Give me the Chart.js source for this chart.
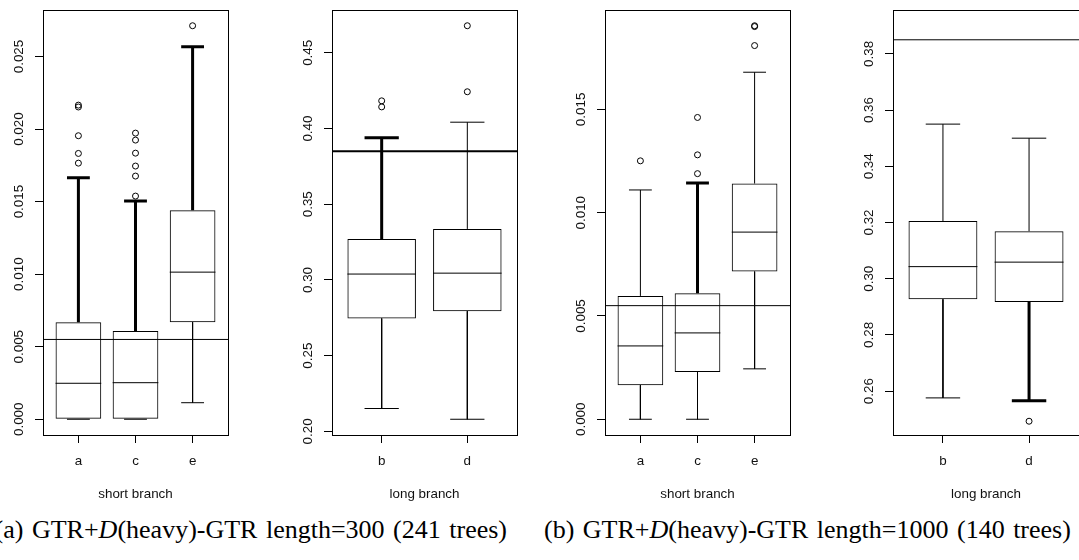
<!DOCTYPE html>
<html><head><meta charset="utf-8">
<script src="https://cdn.jsdelivr.net/npm/chart.js@4.4.1/dist/chart.umd.min.js"></script>
<style>
html,body{margin:0;padding:0;background:#fff;overflow:hidden;width:1079px;height:560px;position:relative}
.pane{position:absolute;top:0}
.cap{position:absolute;top:516.5px;font-family:"Liberation Serif","Times New Roman",serif;font-size:26px;line-height:26px;word-spacing:2px;white-space:nowrap;color:#000}
</style></head><body>
<div class="pane" style="left:0px"><canvas id="c1" width="233" height="510"></canvas></div>
<div class="pane" style="left:289px"><canvas id="c2" width="233" height="510"></canvas></div>
<div class="pane" style="left:562px"><canvas id="c3" width="233" height="510"></canvas></div>
<div class="pane" style="left:850px"><canvas id="c4" width="234" height="510"></canvas></div>
<div class="cap" style="right:572px;text-align:right">(a) GTR+<i>D</i>(heavy)-GTR length=300 (241 trees)</div>
<div class="cap" style="left:544px">(b) GTR+<i>D</i>(heavy)-GTR length=1000 (140 trees)</div>
<script>
// ---------- data ----------
// (a) length=300, short branch
const A_SHORT_CATS = ['a', 'c', 'e'];
const A_SHORT_Q1   = [0, 0, 0.00669];
const A_SHORT_MED  = [0.00248, 0.00252, 0.01014];
const A_SHORT_Q3   = [0.00669, 0.00609, 0.01441];
const A_SHORT_LOW  = [0, 0, 0.00114];
const A_SHORT_HIGH = [0.01664, 0.01505, 0.02567];
const A_SHORT_OUT  = [[0.02165, 0.02152, 0.01954, 0.01832, 0.01765],
                      [0.01972, 0.01924, 0.01834, 0.01745, 0.01676, 0.01538],
                      [0.02712]];
const A_SHORT_TICKS = ['0.000', '0.005', '0.010', '0.015', '0.020', '0.025'];
const A_SHORT_YLIM = [0, 0.02712];
const A_SHORT_REF = 0.0055;
const A_SHORT_BOLD_LOW  = [false, false, false];
const A_SHORT_BOLD_HIGH = [true, true, true];

// (a) length=300, long branch
const A_LONG_CATS = ['b', 'd'];
const A_LONG_Q1   = [0.2746, 0.2794];
const A_LONG_MED  = [0.3039, 0.3045];
const A_LONG_Q3   = [0.3270, 0.3337];
const A_LONG_LOW  = [0.2151, 0.2080];
const A_LONG_HIGH = [0.3940, 0.4042];
const A_LONG_OUT  = [[0.4183, 0.4143], [0.4679, 0.4243]];
const A_LONG_TICKS = ['0.20', '0.25', '0.30', '0.35', '0.40', '0.45'];
const A_LONG_YLIM = [0.2080, 0.4679];
const A_LONG_REF = 0.385;
const A_LONG_BOLD_LOW  = [false, false];
const A_LONG_BOLD_HIGH = [true, false];

// (b) length=1000, short branch
const B_SHORT_CATS = ['a', 'c', 'e'];
const B_SHORT_Q1   = [0.00165, 0.00229, 0.00715];
const B_SHORT_MED  = [0.00355, 0.00418, 0.00906];
const B_SHORT_Q3   = [0.00597, 0.00610, 0.01141];
const B_SHORT_LOW  = [0, 0, 0.00244];
const B_SHORT_HIGH = [0.01110, 0.01144, 0.01680];
const B_SHORT_OUT  = [[0.01251], [0.01189, 0.01280, 0.01461], [0.01809, 0.01901, 0.01905]];
const B_SHORT_TICKS = ['0.000', '0.005', '0.010', '0.015'];
const B_SHORT_YLIM = [0, 0.01905];
const B_SHORT_REF = 0.0055;
const B_SHORT_BOLD_LOW  = [false, false, false];
const B_SHORT_BOLD_HIGH = [false, true, false];

// (b) length=1000, long branch
const B_LONG_CATS = ['b', 'd'];
const B_LONG_Q1   = [0.2927, 0.2917];
const B_LONG_MED  = [0.3043, 0.3059];
const B_LONG_Q3   = [0.3205, 0.3169];
const B_LONG_LOW  = [0.2576, 0.2566];
const B_LONG_HIGH = [0.3550, 0.3500];
const B_LONG_OUT  = [[], [0.2493]];
const B_LONG_TICKS = ['0.26', '0.28', '0.30', '0.32', '0.34', '0.36', '0.38'];
const B_LONG_YLIM = [0.25, 0.39];
const B_LONG_REF = 0.385;
const B_LONG_BOLD_LOW  = [false, true];
const B_LONG_BOLD_HIGH = [false, false];

// ---------- style ----------
const FONT = '"Liberation Sans", Arial, Helvetica, sans-serif';
const FSIZE = 13.4;
const TXT = '#111';
const LINE = '#000';
const HALF_BOX = 0.4, HALF_CAP = 0.2, EXT = 0.04;

function segs(list) {
  const out = [];
  list.forEach(([x0, y0, x1, y1]) => { out.push({x: x0, y: y0}, {x: x1, y: y1}, {x: x1, y: null}); });
  return out;
}

const framePlugin = {
  id: 'rframe',
  afterDraw(chart) {
    const {ctx, chartArea: a, scales: {y}} = chart;
    const labels = chart.options.plugins.rframe.labels;
    ctx.save();
    ctx.strokeStyle = LINE; ctx.lineWidth = 1;
    const l = Math.round(a.left) + 0.5, t = Math.round(a.top) + 0.5;
    ctx.strokeRect(l, t, Math.round(a.right) - Math.round(a.left), Math.round(a.bottom) - Math.round(a.top));
    ctx.fillStyle = TXT;
    ctx.font = FSIZE + 'px ' + FONT;
    ctx.textAlign = 'center'; ctx.textBaseline = 'middle';
    labels.forEach(s => {
      const py = y.getPixelForValue(parseFloat(s));
      ctx.save();
      ctx.translate(a.left - 24, py);
      ctx.rotate(-Math.PI / 2);
      ctx.fillText(s, 0, 0);
      ctx.restore();
    });
    ctx.restore();
  }
};

function boxChart(id, p) {
  const n = p.cats.length;
  const xmin = 0.5 - EXT * n, xmax = n + 0.5 + EXT * n;
  const span = p.ylim[1] - p.ylim[0];
  const ymin = p.ylim[0] - EXT * span, ymax = p.ylim[1] + EXT * span;
  const xs = p.cats.map((_, i) => i + 1);

  const medSegs = [], thin = [], bold = [];
  xs.forEach((x, i) => {
    medSegs.push([x - HALF_BOX, p.med[i], x + HALF_BOX, p.med[i]]);
    (p.boldHigh[i] ? bold : thin).push([x, p.q3[i], x, p.high[i]], [x - HALF_CAP, p.high[i], x + HALF_CAP, p.high[i]]);
    (p.boldLow[i] ? bold : thin).push([x, p.q1[i], x, p.low[i]], [x - HALF_CAP, p.low[i], x + HALF_CAP, p.low[i]]);
  });
  const outliers = [];
  p.out.forEach((arr, i) => arr.forEach(v => outliers.push({x: xs[i], y: v})));

  const lineDs = (data, w) => ({type: 'line', data, borderColor: LINE, borderWidth: w, pointRadius: 0,
    spanGaps: false, fill: false, borderCapStyle: 'butt'});

  new Chart(document.getElementById(id), {
    type: 'bar',
    data: {
      datasets: [
        {type: 'bar', data: xs.map((x, i) => ({x, y: [p.q1[i], p.q3[i]]})),
         backgroundColor: 'rgba(0,0,0,0)', borderColor: LINE, borderWidth: 1, borderSkipped: false,
         categoryPercentage: 1, barPercentage: 2 * HALF_BOX},
        lineDs(segs(medSegs), 1),
        lineDs(segs(thin), 1),
        lineDs(segs(bold), 3),
        lineDs([{x: xmin, y: p.ref}, {x: xmax, y: p.ref}], p.refWidth),
        {type: 'line', data: outliers, showLine: false, pointStyle: 'circle', pointRadius: 3,
         pointBorderWidth: 1, pointBorderColor: LINE, pointBackgroundColor: 'rgba(0,0,0,0)'}
      ]
    },
    options: {
      responsive: false, animation: false, devicePixelRatio: 1,
      events: [],
      layout: {padding: {top: 10, right: 4, left: 0, bottom: 0}},
      plugins: {legend: {display: false}, tooltip: {enabled: false}, rframe: {labels: p.ticks}},
      scales: {
        x: {
          type: 'linear', min: xmin, max: xmax, offset: false,
          afterBuildTicks: s => { s.ticks = xs.map(v => ({value: v})); },
          afterFit: s => { s.height = 75; },
          grid: {offset: false, drawOnChartArea: false, drawTicks: true, tickLength: 8, color: LINE, lineWidth: 1},
          border: {display: false},
          ticks: {color: TXT, font: {family: FONT, size: FSIZE}, padding: 10, maxRotation: 0, autoSkip: false,
                  callback: v => p.cats[Math.round(v) - 1]},
          title: {display: true, text: p.title, color: TXT, font: {family: FONT, size: FSIZE}, padding: {top: 0, bottom: 8}}
        },
        y: {
          type: 'linear', min: ymin, max: ymax,
          afterBuildTicks: s => { s.ticks = p.ticks.map(t => ({value: parseFloat(t)})); },
          afterFit: s => { s.width = 43; },
          grid: {drawOnChartArea: false, drawTicks: true, tickLength: 8, color: LINE, lineWidth: 1},
          border: {display: false},
          ticks: {display: false}
        }
      }
    },
    plugins: [framePlugin]
  });
}

boxChart('c1', {cats: A_SHORT_CATS, q1: A_SHORT_Q1, med: A_SHORT_MED, q3: A_SHORT_Q3, low: A_SHORT_LOW,
  high: A_SHORT_HIGH, out: A_SHORT_OUT, ticks: A_SHORT_TICKS, ylim: A_SHORT_YLIM, ref: A_SHORT_REF, refWidth: 1,
  boldLow: A_SHORT_BOLD_LOW, boldHigh: A_SHORT_BOLD_HIGH, title: 'short branch'});
boxChart('c2', {cats: A_LONG_CATS, q1: A_LONG_Q1, med: A_LONG_MED, q3: A_LONG_Q3, low: A_LONG_LOW,
  high: A_LONG_HIGH, out: A_LONG_OUT, ticks: A_LONG_TICKS, ylim: A_LONG_YLIM, ref: A_LONG_REF, refWidth: 2,
  boldLow: A_LONG_BOLD_LOW, boldHigh: A_LONG_BOLD_HIGH, title: 'long branch'});
boxChart('c3', {cats: B_SHORT_CATS, q1: B_SHORT_Q1, med: B_SHORT_MED, q3: B_SHORT_Q3, low: B_SHORT_LOW,
  high: B_SHORT_HIGH, out: B_SHORT_OUT, ticks: B_SHORT_TICKS, ylim: B_SHORT_YLIM, ref: B_SHORT_REF, refWidth: 1,
  boldLow: B_SHORT_BOLD_LOW, boldHigh: B_SHORT_BOLD_HIGH, title: 'short branch'});
boxChart('c4', {cats: B_LONG_CATS, q1: B_LONG_Q1, med: B_LONG_MED, q3: B_LONG_Q3, low: B_LONG_LOW,
  high: B_LONG_HIGH, out: B_LONG_OUT, ticks: B_LONG_TICKS, ylim: B_LONG_YLIM, ref: B_LONG_REF, refWidth: 1,
  boldLow: B_LONG_BOLD_LOW, boldHigh: B_LONG_BOLD_HIGH, title: 'long branch'});
</script>
</body></html>
